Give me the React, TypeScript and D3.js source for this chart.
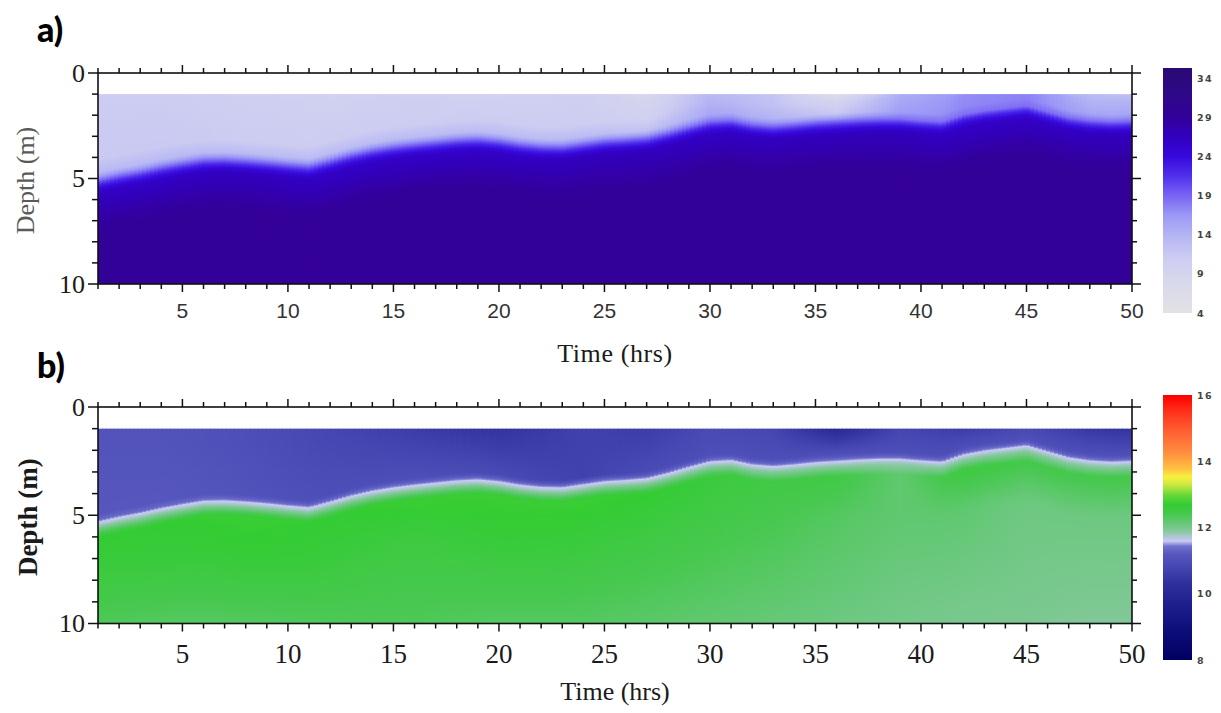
import React, { useMemo } from "react";
import * as d3 from "d3";

// ---------- DATA ----------
const hours = [
  1, 2, 3, 4, 5, 6, 7, 8, 9, 10, 11, 12, 13, 14, 15, 16, 17, 18, 19, 20, 21, 22, 23, 24, 25,
  26, 27, 28, 29, 30, 31, 32, 33, 34, 35, 36, 37, 38, 39, 40, 41, 42, 43, 44, 45, 46, 47, 48, 49, 50,
];
// depth (m) of the halocline / thermocline interface at each hour
const interfaceDepth = [
  5.32, 5.1, 4.92, 4.7, 4.52, 4.36, 4.34, 4.4, 4.48, 4.58,
  4.66, 4.4, 4.12, 3.9, 3.74, 3.62, 3.52, 3.42, 3.37, 3.46,
  3.62, 3.72, 3.74, 3.6, 3.46, 3.4, 3.32, 3.08, 2.8, 2.54,
  2.48, 2.68, 2.76, 2.68, 2.58, 2.52, 2.46, 2.42, 2.42, 2.5,
  2.56, 2.22, 2.04, 1.92, 1.8, 2.08, 2.36, 2.5, 2.56, 2.52,
];
const layerHours = [1, 4, 8, 12, 16, 20, 24, 27, 30, 33, 36, 39, 42, 45, 48, 50];
// panel a (salinity)
const surfTopA = [11, 11, 10.5, 10, 10.5, 10, 10.5, 8.5, 13.5, 12, 6.5, 14.5, 16.5, 17, 13, 12.5];
const surfLowA = [11.5, 11.5, 11, 11, 11, 11, 11, 10, 14, 12.5, 9, 15, 17, 17.5, 14, 14];
const deepTopA = [26, 26, 26.5, 26, 26, 26, 26.5, 26.5, 26, 26.5, 26.5, 26.5, 26, 26, 26.5, 26.5];
const deepBotA = [29.5, 29.5, 29.3, 29.3, 29.5, 29.5, 29.3, 29.3, 29.5, 29.5, 29.5, 29.3, 29.3, 29.5, 29.5, 29.5];
// panel b (temperature)
const surfTopB = [11.1, 11.1, 11.0, 10.8, 10.6, 10.4, 10.7, 10.6, 10.9, 10.8, 10.1, 10.8, 10.6, 10.9, 10.5, 10.4];
const surfLowB = [11.2, 11.2, 11.1, 11.0, 11.0, 10.9, 10.7, 10.9, 11.0, 11.0, 11.0, 11.0, 11.0, 11.0, 11.0, 11.0];
const deepTopB = [12.7, 12.7, 12.75, 12.7, 12.75, 12.75, 12.75, 12.7, 12.6, 12.5, 12.5, 12.2, 12.55, 12.45, 12.45, 12.45];
const deepMidB = [12.55, 12.6, 12.65, 12.6, 12.55, 12.65, 12.6, 12.55, 12.5, 12.4, 12.3, 12.2, 12.2, 12.1, 12.1, 12.1];
const deepBotB = [12.35, 12.3, 12.3, 12.35, 12.35, 12.3, 12.3, 12.25, 12.2, 12.15, 12.1, 12.05, 12.0, 12.0, 11.95, 11.95];

const timeTickLabels = [5, 10, 15, 20, 25, 30, 35, 40, 45, 50];
const depthTickLabels = [0, 5, 10];
const cbATicks = [4, 9, 14, 19, 24, 29, 34];
const cbBTicks = [8, 10, 12, 14, 16];

const cbAStopValues = [4, 8, 11, 14, 16.5, 19, 21.5, 24, 26.5, 29, 32, 35.3];
const cbAStopColors = [
  "#e2e2e6", "#d8d8ec", "#cdcdf2", "#b4b4f4", "#9c98f6", "#7864f4",
  "#5030ec", "#3608dc", "#3200c0", "#33009a", "#2e0888", "#2a0a74",
];
const cbBStopValues = [8, 8.8, 9.6, 10.3, 10.8, 11.2, 11.45, 11.6, 11.72, 11.9, 12.15, 12.4, 12.7, 13.0, 13.3, 13.55, 13.8, 14.3, 15.0, 15.6, 16];
const cbBStopColors = [
  "#000060", "#0c0c78", "#1c1c8c", "#2e2e9c", "#4646b2", "#5656be", "#7272ce", "#cacaf4",
  "#b0c8d8", "#88c8a0", "#66c878", "#48c850", "#33cc33", "#66d838", "#c8e840", "#f8f040",
  "#ffc040", "#ff8c40", "#ff5a30", "#ff2a18", "#ff0000",
];

// ---------- LAYOUT ----------
const X0 = 98;
const X1 = 1132;
const xScale = d3.scaleLinear().domain([1, 50]).range([X0, X1]);
const interfaceAt = d3.scaleLinear().domain(hours).range(interfaceDepth).clamp(true);
const li = (arr: number[]) => d3.scaleLinear().domain(layerHours).range(arr).clamp(true);

const colorA = d3.scaleLinear<string>().domain(cbAStopValues).range(cbAStopColors).interpolate(d3.interpolateRgb).clamp(true);
const colorB = d3.scaleLinear<string>().domain(cbBStopValues).range(cbBStopColors).interpolate(d3.interpolateRgb).clamp(true);

const sTA = li(surfTopA), sLA = li(surfLowA), dTA = li(deepTopA), dBA = li(deepBotA);
const sTB = li(surfTopB), sLB = li(surfLowB), dTB = li(deepTopB), dMB = li(deepMidB), dBB = li(deepBotB);

function profileA(h: number) {
  const I = interfaceAt(h);
  const sLow = sLA(h);
  const knots: [number, number][] = [];
  if (I - 1.2 > 1) knots.push([1, sTA(h)]);
  knots.push([I - 1.2, sLow]);
  knots.push([I - 0.6, sLow + (18 - sLow) * 0.3]);
  knots.push([I - 0.25, 18.5]);
  knots.push([I, 22.5]);
  knots.push([I + 0.35, dTA(h)]);
  knots.push([I + 2.2, dBA(h)]);
  knots.push([10.5, dBA(h)]);
  return { I, knots };
}

function profileB(h: number) {
  const I = interfaceAt(h);
  const knots: [number, number][] = [];
  if (I - 0.35 > 1) knots.push([1, sTB(h)]);
  knots.push([I - 0.35, sLB(h)]);
  knots.push([I - 0.12, 11.35]);
  knots.push([I, 11.6]);
  knots.push([I + 0.15, 11.8]);
  knots.push([I + 0.7, dTB(h)]);
  knots.push([I + 2.5, dMB(h)]);
  knots.push([10, dBB(h)]);
  knots.push([10.5, dBB(h)]);
  return { I, knots };
}

type Col = { id: string; x: number; w: number; stops: { o: number; c: string }[] };

function buildColumns(profileFn: (h: number) => { I: number; knots: [number, number][] }, colorFn: (v: number) => string, prefix: string): Col[] {
  const COL_W = 4;
  const cols: Col[] = [];
  for (let x = X0; x < X1; x += COL_W) {
    const h = xScale.invert(Math.min(x + COL_W / 2, X1));
    const { I, knots } = profileFn(h);
    const prof = d3.scaleLinear().domain(knots.map((k) => k[0])).range(knots.map((k) => k[1])).clamp(true);
    const ds = new Set<number>();
    d3.range(1, 10.001, 0.5).forEach((d) => ds.add(+d.toFixed(3)));
    d3.range(I - 1.3, I + 1.0, 0.05).forEach((d) => {
      if (d > 1 && d < 10) ds.add(+d.toFixed(3));
    });
    const depths = Array.from(ds).sort((a, b) => a - b);
    cols.push({
      id: `${prefix}${cols.length}`,
      x,
      w: Math.min(COL_W + 0.7, X1 - x),
      stops: depths.map((d) => ({ o: (d - 1) / 9, c: colorFn(prof(d)) })),
    });
  }
  return cols;
}

type PanelProps = {
  kind: "a" | "b";
  top: number;
  bottom: number;
};

function Panel({ kind, top, bottom }: PanelProps) {
  const yScale = d3.scaleLinear().domain([0, 10]).range([top, bottom]);
  const cols = useMemo(
    () => (kind === "a" ? buildColumns(profileA, colorA, "ga") : buildColumns(profileB, colorB, "gb")),
    [kind]
  );
  const y1 = yScale(1);
  const y10 = yScale(10);
  const isA = kind === "a";

  const depthAll = d3.range(0, 11);

  const xLabelStyle = isA
    ? { fontFamily: "'Liberation Sans', Arial, sans-serif", fontSize: 21, fill: "#333" }
    : { fontFamily: "'Liberation Serif', 'Times New Roman', serif", fontSize: 27, fill: "#1a1a1a" };
  const xLabelY = isA ? bottom + 34 : bottom + 39;

  // colorbar
  const cbTop = isA ? 68 : 395;
  const cbBot = isA ? 313 : 660;
  const cbScale = isA
    ? d3.scaleLinear().domain([4, 35.3]).range([cbBot, cbTop])
    : d3.scaleLinear().domain([8, 16.03]).range([cbBot, cbTop]);
  const cbStopsV = isA ? cbAStopValues : cbBStopValues;
  const cbStopsC = isA ? cbAStopColors : cbBStopColors;
  const cbTicks = isA ? cbATicks : cbBTicks;
  const cbId = `cb-${kind}`;
  const clipId = `clip-${kind}`;

  return (
    <g>
      <defs>
        <clipPath id={clipId}>
          <rect x={X0} y={top} width={X1 - X0} height={bottom - top} />
        </clipPath>
        {cols.map((c) => (
          <linearGradient key={c.id} id={c.id} x1="0" y1="0" x2="0" y2="1">
            {c.stops.map((s, i) => (
              <stop key={i} offset={s.o} stopColor={s.c} />
            ))}
          </linearGradient>
        ))}
        <linearGradient id={cbId} x1="0" y1="1" x2="0" y2="0">
          {cbStopsV.map((v, i) => (
            <stop
              key={i}
              offset={(cbScale(v) - cbBot) / (cbTop - cbBot)}
              stopColor={cbStopsC[i]}
            />
          ))}
        </linearGradient>
      </defs>

      {/* heatmap */}
      <g clipPath={`url(#${clipId})`}>
        {cols.map((c) => (
          <rect key={c.id} x={c.x} y={y1} width={c.w} height={y10 - y1} fill={`url(#${c.id})`} />
        ))}
      </g>

      {/* frame */}
      <rect x={X0} y={top} width={X1 - X0} height={bottom - top} fill="none" stroke="#111" strokeWidth={1.6} />

      {/* x ticks top & bottom */}
      {hours.map((h) => {
        const major = h % 5 === 0;
        const len = major ? 8 : 5;
        const x = xScale(h);
        return (
          <g key={`xt${h}`} stroke="#111" strokeWidth={1.5}>
            <line x1={x} x2={x} y1={top} y2={top - len} />
            <line x1={x} x2={x} y1={bottom} y2={bottom + len} />
          </g>
        );
      })}
      {/* y ticks left & right */}
      {depthAll.map((d) => {
        const major = d % 5 === 0;
        const len = major ? 10 : 6;
        const y = yScale(d);
        return (
          <g key={`yt${d}`} stroke="#111" strokeWidth={1.5}>
            <line x1={X0} x2={X0 - len} y1={y} y2={y} />
            <line x1={X1} x2={X1 + len - 1} y1={y} y2={y} />
          </g>
        );
      })}

      {/* x tick labels */}
      {timeTickLabels.map((t) => (
        <text key={`xl${t}`} x={xScale(t)} y={xLabelY} textAnchor="middle" {...xLabelStyle}>
          {t}
        </text>
      ))}
      {/* y tick labels */}
      {depthTickLabels.map((d) => (
        <text
          key={`yl${d}`}
          x={85}
          y={yScale(d)}
          textAnchor="end"
          dominantBaseline="central"
          fontFamily="'Liberation Serif', 'Times New Roman', serif"
          fontSize={26}
          fill="#1e1a16"
        >
          {d}
        </text>
      ))}

      {/* axis titles */}
      <text
        transform={`translate(${isA ? 25 : 28},${(top + bottom) / 2 + 2}) rotate(-90)`}
        textAnchor="middle"
        dominantBaseline="central"
        fontFamily="'Liberation Serif', 'Times New Roman', serif"
        fontSize={isA ? 26 : 27}
        fontWeight={isA ? 400 : 700}
        fill={isA ? "#5a5a5a" : "#1a1a1a"}
      >
        Depth (m)
      </text>
      <text
        x={615}
        y={isA ? 362 : 700}
        textAnchor="middle"
        fontFamily="'Liberation Serif', 'Times New Roman', serif"
        fontSize={26}
        fill="#1a1a1a"
        letterSpacing={isA ? 0.6 : 0}
      >
        Time (hrs)
      </text>

      {/* colorbar */}
      <rect x={1163} y={cbTop} width={29} height={cbBot - cbTop} fill={`url(#${cbId})`} />
      {cbTicks.map((v) => (
        <text
          key={`cb${v}`}
          x={1197}
          y={cbScale(v)}
          dominantBaseline="central"
          fontFamily="'DejaVu Sans', Verdana, sans-serif"
          fontSize={9.5}
          fontWeight={700}
          letterSpacing={1.5}
          fill="#444"
        >
          {v}
        </text>
      ))}

      {/* panel label */}
      <text
        x={37}
        y={isA ? 42 : 378}
        fontFamily="Lato, 'Open Sans', sans-serif"
        fontWeight={900}
        fontSize={34}
        fill="#000"
      >
        {isA ? "a)" : "b)"}
      </text>
    </g>
  );
}

export default function App() {
  return (
    <svg
      width={1221}
      height={713}
      viewBox="0 0 1221 713"
      style={{ position: "absolute", left: 0, top: 0, background: "#fff" }}
    >
      <rect x={0} y={0} width={1221} height={713} fill="#fff" />
      <Panel kind="a" top={73} bottom={284} />
      <Panel kind="b" top={407} bottom={623.5} />
    </svg>
  );
}
